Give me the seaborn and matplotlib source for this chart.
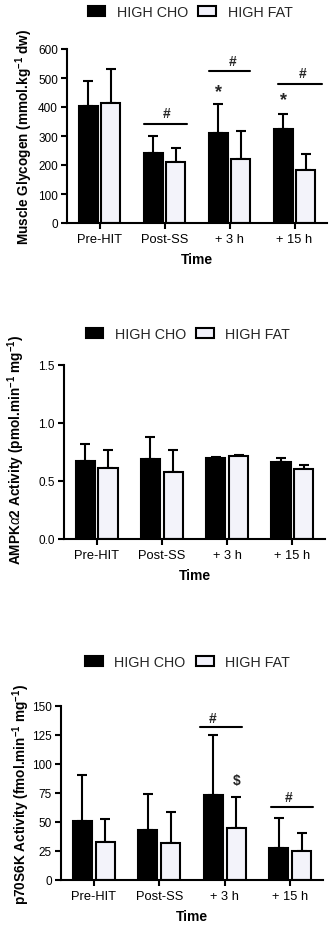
import matplotlib
matplotlib.use("Agg")
import matplotlib.pyplot as plt
import seaborn as sns
import pandas as pd
import numpy as np
from matplotlib.patches import Patch

sns.set_theme(style="ticks")
plt.rcParams['font.family'] = ['Liberation Sans', 'DejaVu Sans']
plt.rcParams['mathtext.fontset'] = 'custom'
plt.rcParams['mathtext.rm'] = 'Liberation Sans'
plt.rcParams['mathtext.bf'] = 'Liberation Sans:bold'
plt.rcParams['mathtext.it'] = 'Liberation Sans:italic'

times = ["Pre-HIT", "Post-SS", "+ 3 h", "+ 15 h"]
groups = ["HIGH CHO", "HIGH FAT"]

gly_cho = [404, 242, 309, 324]
gly_cho_sd = [85, 57, 103, 51]
gly_fat = [414, 210, 220, 183]
gly_fat_sd = [118, 50, 97, 55]

ampk_cho = [0.675, 0.690, 0.701, 0.661]
ampk_cho_sd = [0.144, 0.192, 0.009, 0.037]
ampk_fat = [0.612, 0.580, 0.718, 0.600]
ampk_fat_sd = [0.155, 0.187, 0.009, 0.040]

p70_cho = [50.5, 43.3, 73.3, 27.7]
p70_cho_sd = [40.1, 30.8, 51.6, 25.7]
p70_fat = [32.9, 32.0, 45.0, 25.1]
p70_fat_sd = [19.3, 26.3, 26.5, 15.6]

colors = ["#000000", "#f2f2fb"]

fig = plt.figure(figsize=(3.3, 9.29), dpi=100)

panels = [
    dict(cho=gly_cho, cho_sd=gly_cho_sd, fat=gly_fat, fat_sd=gly_fat_sd,
         ylim=(0, 600), yticks=[0, 100, 200, 300, 400, 500, 600],
         yfmt="{:.0f}",
         ylabel=r"Muscle Glycogen (mmol.kg$^{\mathbf{-1}}$ dw)",
         rect=[67/330, (929-224)/929, 260/330, 174/929],
         ylab_x=-0.123, ylab_y=0.5, leg=(0.473, 1.213)),
    dict(cho=ampk_cho, cho_sd=ampk_cho_sd, fat=ampk_fat, fat_sd=ampk_fat_sd,
         ylim=(0, 1.5), yticks=[0.0, 0.5, 1.0, 1.5],
         yfmt="{:.1f}",
         ylabel=r"AMPK$\alpha$2 Activity (pmol.min$^{\mathbf{-1}}$ mg$^{\mathbf{-1}}$)",
         rect=[64/330, (929-540)/929, 261/330, 174/929],
         ylab_x=-0.14, ylab_y=0.517, leg=(0.475, 1.178)),
    dict(cho=p70_cho, cho_sd=p70_cho_sd, fat=p70_fat, fat_sd=p70_fat_sd,
         ylim=(0, 150), yticks=[0, 25, 50, 75, 100, 125, 150],
         yfmt="{:.0f}",
         ylabel=r"p70S6K Activity (fmol.min$^{\mathbf{-1}}$ mg$^{\mathbf{-1}}$)",
         rect=[61/330, (929-881)/929, 262/330, 174/929],
         ylab_x=-0.112, ylab_y=0.5, leg=(0.483, 1.253)),
]

axes = []
for p in panels:
    ax = fig.add_axes(p["rect"])
    axes.append(ax)
    df = pd.DataFrame({
        "Time": times * 2,
        "Group": [groups[0]] * 4 + [groups[1]] * 4,
        "Value": list(p["cho"]) + list(p["fat"]),
    })
    sns.barplot(data=df, x="Time", y="Value", hue="Group", order=times,
                hue_order=groups, palette=colors, edgecolor="black",
                linewidth=1.5, width=0.7, gap=0.16, errorbar=None,
                legend=False, ax=ax, zorder=2)
    sds = [p["cho_sd"], p["fat_sd"]]
    for cont, sd in zip(ax.containers, sds):
        xs = [b.get_x() + b.get_width() / 2 for b in cont]
        ys = [b.get_height() for b in cont]
        ax.errorbar(xs, ys, yerr=[np.zeros(len(sd)), sd], fmt="none",
                    ecolor="black", elinewidth=1.5, capsize=3.6,
                    capthick=1.5, zorder=1)
    ax.set_xlim(-0.5, 3.5)
    ax.set_ylim(*p["ylim"])
    ax.set_yticks(p["yticks"])
    ax.set_yticklabels([p["yfmt"].format(t) for t in p["yticks"]])
    for s in ["top", "right"]:
        ax.spines[s].set_visible(False)
    for s in ["left", "bottom"]:
        ax.spines[s].set_linewidth(1.5)
        ax.spines[s].set_color("black")
    ax.tick_params(axis="both", direction="out", length=4, width=1.5,
                   color="black", labelcolor="black", pad=3)
    ax.tick_params(axis="y", labelsize=8.5, pad=2.5)
    ax.tick_params(axis="x", labelsize=9.3)
    ax.set_ylabel(p["ylabel"], fontsize=9.8, fontweight="bold", color="black")
    ax.yaxis.set_label_coords(p["ylab_x"], p["ylab_y"])
    ax.set_xlabel("Time", fontsize=10, fontweight="bold", color="black")
    ax.xaxis.set_label_coords(0.5, -0.165)
    handles = [Patch(facecolor=colors[0], edgecolor="black", linewidth=1.5),
               Patch(facecolor=colors[1], edgecolor="black", linewidth=1.5)]
    ax.legend(handles, groups, loc="center", bbox_to_anchor=p["leg"],
              ncol=2, frameon=False, fontsize=10.3, handlelength=1.25,
              handleheight=0.75, columnspacing=0.7, handletextpad=0.8)

# significance annotations, panel 1
ax = axes[0]
for x0, x1, yl in [(1 - 0.31, 1 + 0.34, 343),
                   (2 - 0.32, 2 + 0.32, 524),
                   (3 - 0.25, 3 + 0.42, 481)]:
    ax.plot([x0, x1], [yl, yl], color="black", lw=1.5, clip_on=False)
for x, y in [(1.03, 343), (2.05, 524), (3.12, 481)]:
    ax.text(x, y + 12, "#", ha="center", va="bottom", fontsize=10,
            fontweight="bold")
for x, y in [(1.83, 425), (2.83, 396)]:
    ax.text(x, y, "*", ha="center", va="bottom", fontsize=13,
            fontweight="bold")

# significance annotations, panel 3
ax = axes[2]
for x0, x1, yl in [(2 - 0.38, 2 + 0.26, 131.5), (3 - 0.29, 3 + 0.35, 63.2)]:
    ax.plot([x0, x1], [yl, yl], color="black", lw=1.5, clip_on=False)
for x, y in [(1.82, 131.5), (2.97, 63.2)]:
    ax.text(x, y + 2.5, "#", ha="center", va="bottom", fontsize=10,
            fontweight="bold")
ax.text(2.18, 80, "$", ha="center", va="bottom", fontsize=10,
        fontweight="bold")

fig.savefig("out.png", dpi=100)
